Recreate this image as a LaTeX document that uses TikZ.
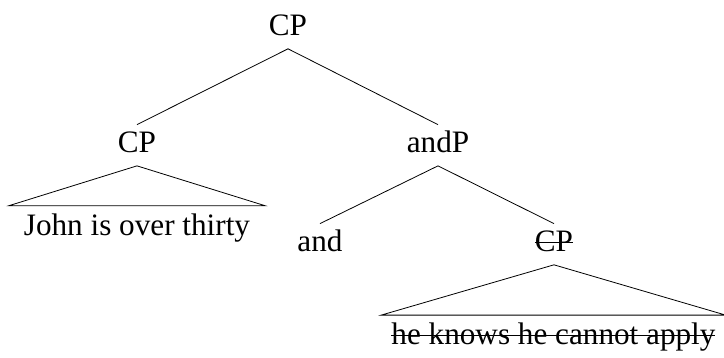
\documentclass[tikz,border=0pt]{standalone}
\usepackage{fontspec}
\setmainfont{Liberation Serif}
\usepackage{tikz}
\usetikzlibrary{positioning, calc}

% struck-out material (deleted copy)
\newcommand{\strikeout}[1]{\setbox0\hbox{#1}\rlap{\rule[0.26em]{\wd0}{0.5pt}}\box0}

\tikzset{
    cat/.style={font=\fontsize{15.6}{18}\selectfont, inner xsep=1pt, inner ysep=3.5pt,
                text height=10pt, text depth=3.2pt, anchor=base},
    yield/.style={cat, inner ysep=4pt, text height=10.5pt},
}

\begin{document}
\begin{tikzpicture}

        \useasboundingbox (0, 0) rectangle (12.723, 6.274);

        %\draw[help lines] (0, 0) grid (13, 7);

        \node[cat] (root) at (5.061, 5.659) {CP};
        \node[cat] (cpL) at (2.407, 3.602) {CP};
        \node[cat] (andP) at (7.697, 3.602) {andP};
        \node[cat] (and) at (5.623, 1.863) {and};
        \node[cat] (cpR) at (9.735, 1.863) {\strikeout{CP}};

        \node[yield, inner xsep=7.25pt] (john) at (2.407, 2.143) {John is over thirty};
        \node[yield, inner xsep=4.9pt] (he) at (9.726, 0.22) {\strikeout{he knows he cannot apply}};

        \draw (root.south) -- (cpL.north);
        \draw (root.south) -- (andP.north);
        \draw (andP.south) -- (and.north);
        \draw (andP.south) -- (cpR.north);

        % roofs over the unanalysed clauses
        \draw (cpL.south) -- (john.north west) -- (john.north east) -- cycle;
        \draw (cpR.south) -- (he.north west) -- (he.north east) -- cycle;
      \end{tikzpicture}
\end{document}
